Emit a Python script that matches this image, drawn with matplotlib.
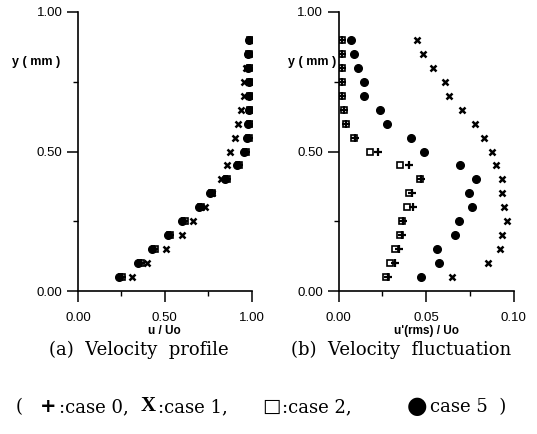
import matplotlib
matplotlib.use("Agg")
import matplotlib.pyplot as plt
from matplotlib.ticker import FixedLocator

# ---------------- data ----------------
y_mm = [0.05, 0.10, 0.15, 0.20, 0.25, 0.30, 0.35, 0.40, 0.45,
        0.50, 0.55, 0.60, 0.65, 0.70, 0.75, 0.80, 0.85, 0.90]

# (a) velocity profile u/Uo
u_case0 = [0.252, 0.363, 0.440, 0.530, 0.612, 0.708, 0.773, 0.856, 0.926,
           0.967, 0.984, 0.990, 0.992, 0.992, 0.992, 0.990, 0.988, 0.992]
u_case1 = [0.314, 0.395, 0.510, 0.598, 0.665, 0.730, 0.775, 0.822, 0.856,
           0.875, 0.904, 0.923, 0.940, 0.956, 0.956, 0.970, 0.985, 0.990]
u_case2 = [0.254, 0.365, 0.442, 0.532, 0.614, 0.710, 0.775, 0.858, 0.928,
           0.968, 0.985, 0.990, 0.993, 0.993, 0.993, 0.990, 0.988, 0.993]
u_case5 = [0.236, 0.348, 0.428, 0.518, 0.598, 0.695, 0.762, 0.846, 0.916,
           0.958, 0.975, 0.982, 0.986, 0.986, 0.986, 0.982, 0.982, 0.987]

# (b) velocity fluctuation u'(rms)/Uo
f_case0 = [0.0280, 0.0324, 0.0347, 0.0360, 0.0370, 0.0423, 0.0420, 0.0470, 0.0404,
           0.0225, 0.0095, 0.0045, 0.0030, 0.0022, 0.0022, 0.0022, 0.0022, 0.0021]
f_case1 = [0.0648, 0.0854, 0.0924, 0.0937, 0.0962, 0.0947, 0.0937, 0.0937, 0.0901,
           0.0877, 0.0829, 0.0781, 0.0705, 0.0634, 0.0610, 0.0540, 0.0482, 0.0448]
f_case2 = [0.0273, 0.0295, 0.0320, 0.0353, 0.0362, 0.0394, 0.0404, 0.0467, 0.0353,
           0.0181, 0.0090, 0.0042, 0.0029, 0.0020, 0.0020, 0.0020, 0.0020, 0.0019]
f_case5 = [0.0471, 0.0577, 0.0562, 0.0667, 0.0686, 0.0762, 0.0743, 0.0787, 0.0692,
           0.0490, 0.0415, 0.0276, 0.0238, 0.0147, 0.0143, 0.0109, 0.0086, 0.0071]

xticks_a = [0.0, 0.5, 1.0]
xticklabels_a = ["0.00", "0.50", "1.00"]
xminor_a = [0.25, 0.75]
xticks_b = [0.0, 0.05, 0.10]
xticklabels_b = ["0.00", "0.05", "0.10"]
xminor_b = [0.025, 0.075]
yticks = [0.0, 0.5, 1.0]
yticklabels = ["0.00", "0.50", "1.00"]
yminor = [0.25, 0.75]

# ---------------- figure ----------------
W, H = 537, 434
fig = plt.figure(figsize=(W / 100, H / 100), dpi=100)
sans = "Liberation Sans"
serif = "Liberation Serif"


def px_axes(x0, x1, ytop, ybot):
    return fig.add_axes([x0 / W, 1 - ybot / H, (x1 - x0) / W, (ybot - ytop) / H])


ax_a = px_axes(78, 251.5, 12, 291)
ax_b = px_axes(338.5, 513.5, 12, 291)

mk = dict(linestyle="none", color="black")


def style(ax, xt, xtl, xm, xlabel, xlim, ylab_x):
    ax.set_xlim(*xlim)
    ax.set_ylim(0, 1.0)
    for s in ("top", "right"):
        ax.spines[s].set_visible(False)
    for s in ("left", "bottom"):
        ax.spines[s].set_linewidth(1.2)
    ax.set_xticks(xt)
    ax.set_xticklabels(xtl)
    ax.xaxis.set_minor_locator(FixedLocator(xm))
    ax.set_yticks(yticks)
    ax.set_yticklabels(yticklabels)
    ax.yaxis.set_minor_locator(FixedLocator(yminor))
    ax.tick_params(which="major", direction="out", length=8, width=1.1)
    ax.tick_params(which="minor", direction="out", length=3.5, width=1.0)
    ax.tick_params(axis="x", which="major", pad=7)
    ax.tick_params(axis="y", which="major", pad=3)
    for lab in ax.get_xticklabels() + ax.get_yticklabels():
        lab.set_fontfamily(sans)
        lab.set_fontsize(9.5)
    ax.set_xlabel(xlabel, fontfamily=sans, fontweight="bold", fontsize=8.5, labelpad=1)
    ax.text(ylab_x, 0.82, "y ( mm )", transform=ax.transAxes, ha="center", va="center",
            fontfamily=sans, fontweight="bold", fontsize=9)
    ax.patch.set_alpha(0)


# (a)
ax_a.plot(u_case2, y_mm, marker="s", markersize=5, markerfacecolor="none", markeredgewidth=1.2, **mk)
ax_a.plot(u_case5, y_mm, marker="o", markersize=5.5, **mk)
ax_a.plot(u_case0, y_mm, marker="+", markersize=5.5, markeredgewidth=1.6, **mk)
ax_a.plot(u_case1, y_mm, marker="x", markersize=4.5, markeredgewidth=1.8, **mk)
style(ax_a, xticks_a, xticklabels_a, xminor_a, "u / Uo", (0, 1.0), -0.242)

# (b)
ax_b.plot(f_case2, y_mm, marker="s", markersize=5, markerfacecolor="none", markeredgewidth=1.2, **mk)
ax_b.plot(f_case0, y_mm, marker="+", markersize=5.5, markeredgewidth=1.6, **mk)
ax_b.plot(f_case5, y_mm, marker="o", markersize=5.5, **mk)
ax_b.plot(f_case1, y_mm, marker="x", markersize=4.5, markeredgewidth=1.8, **mk)
style(ax_b, xticks_b, xticklabels_b, xminor_b, "u'(rms) / Uo", (0, 0.10), -0.152)


def ftext(x, y, s, **kw):
    fig.text(x / W, 1 - y / H, s, va="center", **kw)


# captions
ftext(139, 350, "(a)  Velocity  profile", ha="center", fontfamily="DejaVu Serif", fontsize=13)
ftext(401, 350, "(b)  Velocity  fluctuation", ha="center", fontfamily="DejaVu Serif", fontsize=13)

# legend line
ls = dict(fontfamily="DejaVu Serif", fontsize=13, ha="left")
ly = 407
ftext(16, ly, "(", **ls)
ftext(40, ly, "+", ha="left", fontfamily="DejaVu Sans", fontweight="bold", fontsize=14)
ftext(59, ly, ":case 0,", **ls)
ftext(141, ly - 1, "X", ha="left", fontfamily=serif, fontweight="bold", fontsize=15)
ftext(158, ly, ":case 1,", **ls)
ftext(262, ly - 1, "\u25A1", ha="left", fontfamily="DejaVu Sans", fontsize=14)
ftext(282, ly, ":case 2,", **ls)
ftext(407, ly - 1, "\u25CF", ha="left", fontfamily="DejaVu Sans", fontsize=17)
ftext(430, ly, "case 5  )", **ls)

fig.savefig("out.png", dpi=100)
